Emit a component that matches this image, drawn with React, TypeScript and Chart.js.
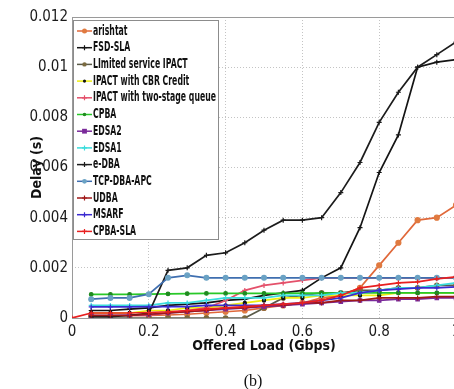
import React, { useEffect, useRef } from 'react';
import { Chart, registerables } from 'chart.js';

Chart.register(...registerables);

// Offered load (Gbps)
const X_VALUES = [0, 0.05, 0.1, 0.15, 0.2, 0.25, 0.3, 0.35, 0.4, 0.45, 0.5, 0.55, 0.6, 0.65, 0.7, 0.75, 0.8, 0.85, 0.9, 0.95, 1];

const X_TICK_LABELS = ['0', '0.2', '0.4', '0.6', '0.8', '1'];
const Y_TICK_LABELS = ['0', '0.002', '0.004', '0.006', '0.008', '0.01', '0.012'];

const SERIES_NAMES = [
  'arishtat',
  'FSD-SLA',
  'LImited service IPACT',
  'IPACT with CBR Credit',
  'IPACT with two-stage queue',
  'CPBA',
  'EDSA2',
  'EDSA1',
  'e-DBA',
  'TCP-DBA-APC',
  'UDBA',
  'MSARF',
  'CPBA-SLA',
];

// Delay (s)
const ARISHTAT = [null, 0.0001, 0.0001, 0.0001, 0.0001, 0.00012, 0.00015, 0.0002, 0.00025, 0.0003, 0.0004, 0.0005, 0.0006, 0.0008, 0.0009, 0.0012, 0.0021, 0.003, 0.0039, 0.004, 0.0045];
const FSD_SLA = [null, 0.0003, 0.0003, 0.00035, 0.0004, 0.0005, 0.00055, 0.0006, 0.0007, 0.00075, 0.0009, 0.001, 0.0011, 0.0016, 0.002, 0.0036, 0.0058, 0.0073, 0.01, 0.0102, 0.0103];
const LIMITED_IPACT = [null, 0, 0, 0, 0, 0, 0, 0, 0, 0, 0.0004, 0.0008, 0.0009, 0.001, 0.001, 0.0011, 0.0011, 0.0012, 0.0012, 0.0013, 0.0013];
const IPACT_CBR = [null, 0.0002, 0.0002, 0.0002, 0.0003, 0.0003, 0.0004, 0.0004, 0.0005, 0.0006, 0.0007, 0.0008, 0.0008, 0.0009, 0.0009, 0.0009, 0.0009, 0.001, 0.001, 0.001, 0.001];
const IPACT_TWO_STAGE = [null, 0.0001, 0.0001, 0.0001, 0.0001, 0.0002, 0.0003, 0.0004, 0.0007, 0.0011, 0.0013, 0.0014, 0.0015, 0.0016, 0.0016, 0.0016, 0.0016, 0.0016, 0.0016, 0.0016, 0.0016];
const CPBA = [null, 0.00094, 0.00094, 0.00094, 0.00095, 0.00096, 0.00097, 0.00098, 0.00098, 0.00098, 0.00098, 0.00098, 0.00099, 0.00099, 0.00099, 0.001, 0.001, 0.001, 0.001, 0.001, 0.001];
const EDSA2 = [null, 0.0001, 0.0001, 0.00012, 0.00015, 0.0002, 0.00025, 0.0003, 0.00035, 0.0004, 0.00045, 0.0005, 0.00055, 0.0006, 0.00065, 0.0007, 0.0007, 0.00075, 0.00075, 0.0008, 0.0008];
const EDSA1 = [null, 0.0005, 0.0005, 0.0005, 0.0005, 0.0006, 0.0006, 0.0007, 0.0008, 0.0008, 0.0008, 0.0009, 0.0009, 0.0009, 0.001, 0.001, 0.0011, 0.0012, 0.0012, 0.0013, 0.0014];
const E_DBA = [null, 0.00005, 0.00005, 0.0001, 0.0002, 0.0019, 0.002, 0.0025, 0.0026, 0.003, 0.0035, 0.0039, 0.0039, 0.004, 0.005, 0.0062, 0.0078, 0.009, 0.01, 0.0105, 0.011];
const TCP_DBA_APC = [null, 0.00075, 0.0008, 0.0008, 0.00095, 0.0016, 0.0017, 0.0016, 0.0016, 0.0016, 0.0016, 0.0016, 0.0016, 0.0016, 0.0016, 0.0016, 0.0016, 0.0016, 0.0016, 0.0016, 0.0016];
const UDBA = [null, 0.0001, 0.0001, 0.0001, 0.00015, 0.0002, 0.00025, 0.0003, 0.0004, 0.0004, 0.0005, 0.0005, 0.0006, 0.0006, 0.0007, 0.0007, 0.0008, 0.0008, 0.0008, 0.00085, 0.00085];
const MSARF = [null, 0.00044, 0.00044, 0.00044, 0.00045, 0.00045, 0.00045, 0.0005, 0.0005, 0.0005, 0.0005, 0.00055, 0.0006, 0.0007, 0.0008, 0.001, 0.0011, 0.00115, 0.0012, 0.0012, 0.00124];
const CPBA_SLA = [0, 0.0002, 0.0002, 0.0002, 0.00022, 0.00025, 0.0003, 0.00035, 0.0004, 0.00045, 0.0005, 0.00055, 0.0006, 0.0007, 0.0009, 0.0012, 0.0013, 0.0014, 0.00144, 0.00156, 0.00164];

const SERIES_VALUES = [ARISHTAT, FSD_SLA, LIMITED_IPACT, IPACT_CBR, IPACT_TWO_STAGE, CPBA, EDSA2, EDSA1, E_DBA, TCP_DBA_APC, UDBA, MSARF, CPBA_SLA];

const STYLES = [
  { color: '#e0683a', marker: 'circle', fill: '#e07a40', r: 2.5 },
  { color: '#141414', marker: 'cross', fill: '#141414', r: 2.5 },
  { color: '#5a5a48', marker: 'circle', fill: '#7a6a40', r: 2.2 },
  { color: '#eeee10', marker: 'circle', fill: '#111111', r: 1.6 },
  { color: '#e4506a', marker: 'cross', fill: '#e4506a', r: 2.5 },
  { color: '#28c828', marker: 'circle', fill: '#208a20', r: 1.8 },
  { color: '#7a2a9a', marker: 'rect', fill: '#7a2a9a', r: 2.4 },
  { color: '#3adcdc', marker: 'cross', fill: '#20b0b0', r: 2.5 },
  { color: '#1c1c1c', marker: 'cross', fill: '#1c1c1c', r: 2.5 },
  { color: '#3f6fb0', marker: 'circle', fill: '#6aa2c4', r: 2.4 },
  { color: '#a01818', marker: 'cross', fill: '#a01818', r: 2.5 },
  { color: '#3a2ad0', marker: 'cross', fill: '#3a2ad0', r: 2.5 },
  { color: '#e82020', marker: 'cross', fill: '#e82020', r: 2.5 },
];

const NARROW = '"Liberation Sans Narrow", "DejaVu Sans Condensed", "Arial Narrow", Arial, sans-serif';

function drawMarker(ctx: CanvasRenderingContext2D, kind: string, x: number, y: number, r: number, color: string, fill: string) {
  ctx.save();
  ctx.strokeStyle = kind === 'cross' ? color : fill;
  ctx.fillStyle = fill;
  ctx.lineWidth = 1.2;
  if (kind === 'cross') {
    ctx.beginPath();
    ctx.moveTo(x - r, y); ctx.lineTo(x + r, y);
    ctx.moveTo(x, y - r); ctx.lineTo(x, y + r);
    ctx.stroke();
  } else if (kind === 'rect') {
    ctx.fillRect(x - r, y - r, 2 * r, 2 * r);
  } else {
    ctx.beginPath();
    ctx.arc(x, y, r, 0, Math.PI * 2);
    ctx.fill();
  }
  ctx.restore();
}

const framePlugin = {
  id: 'frameBox',
  beforeDatasetsDraw(chart: any) {
    const { ctx, chartArea } = chart;
    ctx.save();
    ctx.strokeStyle = '#9a9a9a';
    ctx.lineWidth = 1;
    ctx.strokeRect(chartArea.left + 0.5, chartArea.top + 0.5, chartArea.right - chartArea.left, chartArea.bottom - chartArea.top);
    ctx.restore();
  },
};

const legendPlugin = {
  id: 'insideLegend',
  afterDatasetsDraw(chart: any) {
    const { ctx, chartArea } = chart;
    const left = chartArea.left + 1;
    const top = chartArea.top + 3;
    const w = 145;
    const h = 219;
    ctx.save();
    ctx.fillStyle = '#ffffff';
    ctx.fillRect(left, top, w, h);
    ctx.strokeStyle = '#8c8c8c';
    ctx.lineWidth = 1;
    ctx.strokeRect(left + 0.5, top + 0.5, w, h);
    ctx.font = 'bold 14px ' + NARROW;
    ctx.textBaseline = 'middle';
    ctx.textAlign = 'left';
    const datasets = chart.data.datasets;
    const widest = Math.max(...datasets.map((d: any) => ctx.measureText(d.label).width));
    const sx = 123 / widest;
    datasets.forEach((ds: any, i: number) => {
      const st = STYLES[i];
      const y = top + 11 + i * 16.7;
      ctx.strokeStyle = st.color;
      ctx.lineWidth = 1.5;
      ctx.beginPath();
      ctx.moveTo(left + 4, y);
      ctx.lineTo(left + 19, y);
      ctx.stroke();
      drawMarker(ctx, st.marker, left + 11.5, y, st.r, st.color, st.fill);
      ctx.save();
      ctx.translate(left + 20, y);
      ctx.scale(sx, 1);
      ctx.fillStyle = '#111111';
      ctx.fillText(ds.label, 0, 0);
      ctx.restore();
    });
    ctx.restore();
  },
};

export default function App() {
  const canvasRef = useRef<HTMLCanvasElement | null>(null);

  useEffect(() => {
    const canvas = canvasRef.current;
    if (!canvas) return;
    const datasets = SERIES_NAMES.map((name, i) => {
      const st = STYLES[i];
      return {
        label: name,
        data: X_VALUES.map((x, j) => ({ x, y: SERIES_VALUES[i][j] })),
        borderColor: st.color,
        backgroundColor: st.fill,
        borderWidth: 1.7,
        pointStyle: st.marker === 'rect' ? 'rect' : st.marker === 'cross' ? 'cross' : 'circle',
        pointRadius: st.r,
        pointBorderColor: st.marker === 'cross' ? st.color : st.fill,
        pointBackgroundColor: st.fill,
        pointBorderWidth: 1.2,
        tension: 0,
        spanGaps: false,
        order: SERIES_NAMES.length - i,
      };
    });

    const chart = new Chart(canvas, {
      type: 'line',
      data: { datasets },
      options: {
        responsive: false,
        animation: false,
        devicePixelRatio: 1,
        layout: { padding: { left: 0, right: 14, top: 17, bottom: 0 } },
        plugins: { legend: { display: false }, tooltip: { enabled: false } },
        scales: {
          x: {
            type: 'linear',
            min: 0,
            max: 1,
            afterFit: (s: any) => { s.height = 71; },
            ticks: {
              stepSize: 0.2,
              maxRotation: 0,
              autoSkip: false,
              padding: 5,
              color: '#1a1a1a',
              font: { family: NARROW, size: 15 },
              callback: (_v: any, idx: number) => X_TICK_LABELS[idx],
            },
            grid: { color: '#c4c4c4', drawTicks: false, lineWidth: 1 },
            border: { display: false, dash: [1, 2] },
            title: {
              display: true,
              text: 'Offered Load (Gbps)',
              color: '#111111',
              font: { family: NARROW, size: 14, weight: 'bold' },
              padding: { top: 0, bottom: 34 },
            },
          },
          y: {
            type: 'linear',
            min: 0,
            max: 0.012,
            afterFit: (s: any) => { s.width = 72; },
            ticks: {
              stepSize: 0.002,
              padding: 4,
              color: '#1a1a1a',
              font: { family: NARROW, size: 15 },
              callback: (_v: any, idx: number) => Y_TICK_LABELS[idx],
            },
            grid: { color: '#c4c4c4', drawTicks: false, lineWidth: 1 },
            border: { display: false, dash: [1, 2] },
            title: {
              display: true,
              text: 'Delay (s)',
              color: '#111111',
              font: { family: NARROW, size: 14, weight: 'bold' },
              padding: { top: 29, bottom: 0 },
            },
          },
        },
      },
      plugins: [framePlugin, legendPlugin],
    });
    return () => chart.destroy();
  }, []);

  return (
    <div style={{ position: 'absolute', left: 0, top: 0, width: 454, height: 389, overflow: 'hidden', background: '#ffffff' }}>
      <canvas ref={canvasRef} width={470} height={389} style={{ display: 'block' }} />
      <div
        style={{
          position: 'absolute',
          left: 203,
          width: 100,
          top: 371,
          lineHeight: '20px',
          textAlign: 'center',
          fontFamily: '"Liberation Serif", "Times New Roman", serif',
          fontSize: 16,
          color: '#111111',
        }}
      >
        (b)
      </div>
    </div>
  );
}
